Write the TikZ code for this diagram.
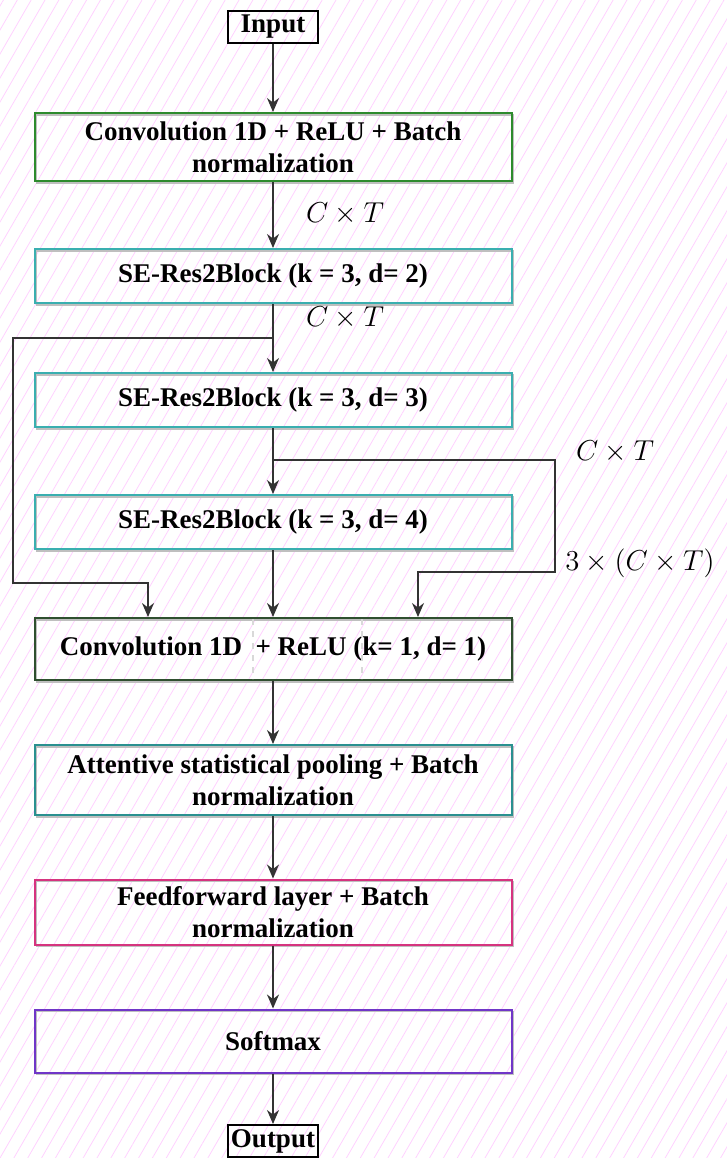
\documentclass[tikz,border=0pt]{standalone}
\usepackage{fontspec}
\setmainfont{Liberation Serif}
\usetikzlibrary{arrows.meta,patterns.meta}

\definecolor{cgreen}{HTML}{2E8B2E}
\definecolor{cteal}{HTML}{3AAFB0}
\definecolor{cdark}{HTML}{2F4F2F}
\definecolor{cteal2}{HTML}{2A9090}
\definecolor{cpink}{HTML}{D6337F}
\definecolor{cviolet}{HTML}{7036C8}

\tikzstyle{block}=[draw,line width=1pt,minimum width=238.5pt,align=center,inner sep=0pt,font=\fontsize{13.5}{16}\selectfont\bfseries,preaction={draw=black!25,line width=0.9pt,transform canvas={shift={(1pt,-1pt)}}}]
\tikzstyle{tag}=[draw,line width=1pt,minimum width=45pt,minimum height=16pt,inner sep=0pt,font=\fontsize{13.5}{16}\selectfont\bfseries]
\tikzstyle{arr}=[-{Stealth[length=7pt,width=6pt]},line width=0.8pt,draw=black!80]
\tikzstyle{lbl}=[font=\fontsize{13.5}{16}\selectfont]

\begin{document}
\begin{tikzpicture}[x=0.5pt,y=-0.5pt]
            \useasboundingbox (0,0) rectangle (727,1158);
            \fill[pattern={Lines[angle=60,distance=6pt,line width=0.4pt]},pattern color=magenta!18] (0,0) rectangle (727,1158);
            \node (inp) at (273,27) [tag] {Input};
            \node (conv) at (273,147) [block,draw=cgreen,minimum height=34pt] {Convolution 1D + ReLU + Batch\\normalization};
            \node (res2) at (273,276) [block,draw=cteal,minimum height=27pt] {SE-Res2Block (k = 3, d= 2)};
            \node (res3) at (273,400) [block,draw=cteal,minimum height=27pt] {SE-Res2Block (k = 3, d= 3)};
            \node (res4) at (273,522) [block,draw=cteal,minimum height=27pt] {SE-Res2Block (k = 3, d= 4)};
            \node (convb) at (273,649) [block,draw=cdark,minimum height=31pt] {Convolution 1D\ \ + ReLU (k= 1, d= 1)};
            \node (pool) at (273,780) [block,draw=cteal2,minimum height=35pt] {Attentive statistical pooling + Batch\\normalization};
            \node (ff) at (273,912) [block,draw=cpink,minimum height=32.5pt] {Feedforward layer + Batch\\normalization};
            \node (soft) at (273,1041) [block,draw=cviolet,minimum height=31.5pt] {Softmax};
            \node (out) at (273,1141) [tag] {Output};
            \node (ct1) at (345,214) [lbl] {$C\times T$};
            \node (ct2) at (345,318) [lbl] {$C\times T$};
            \node (ct3) at (615,452) [lbl] {$C\times T$};
            \node (ct4) at (640,563) [lbl] {$3\times(C\times T)$};
            \coordinate (tapa) at (273,338);
            \coordinate (tapb) at (273,460);
            \coordinate (lx) at (148,0);
            \coordinate (rx) at (418,0);
            \draw[black!15,dashed,line width=0.6pt] (253,619) -- (253,679);
            \draw[black!15,dashed,line width=0.6pt] (362,619) -- (362,679);
            \draw[arr] (inp) -- (conv);
            \draw[arr] (conv) -- (res2);
            \draw[arr] (res2) -- (res3);
            \draw[arr] (res3) -- (res4);
            \draw[arr] (res4) -- (convb);
            \draw[arr] (tapa) -- (13,338) -- (13,583) -| (lx |- convb.north);
            \draw[arr] (tapb) -- (555,460) -- (555,572) -| (rx |- convb.north);
            \draw[arr] (convb) -- (pool);
            \draw[arr] (pool) -- (ff);
            \draw[arr] (ff) -- (soft);
            \draw[arr] (soft) -- (out);
        \end{tikzpicture}
\end{document}
